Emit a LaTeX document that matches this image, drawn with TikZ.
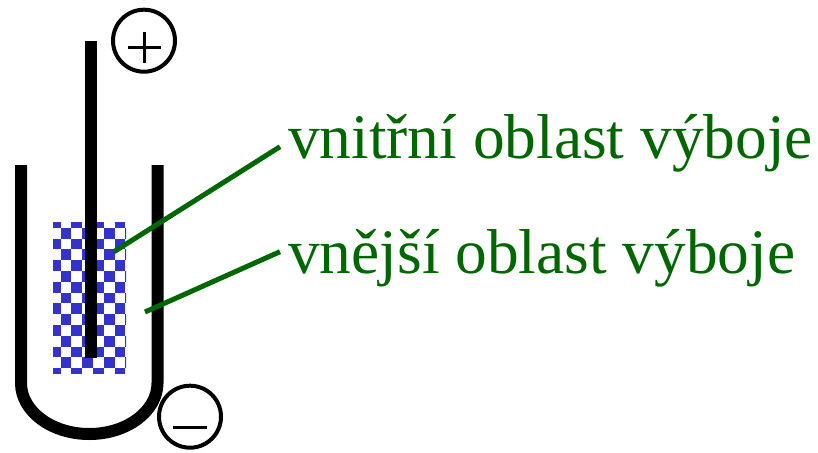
\documentclass[tikz,border=0pt]{standalone}
\usepackage{fontspec}
\setmainfont{Liberation Serif}
\definecolor{leadgreen}{RGB}{0,102,0}
\definecolor{plasmablue}{RGB}{51,51,204}
\begin{document}
\begin{tikzpicture}[x=1pt,y=-1pt,
  wall/.style={line width=12pt,line cap=butt,black},
  pole/.style={draw,circle,line width=4pt,minimum size=62pt,inner sep=0pt},
  sign/.style={line width=3pt},
  leader/.style={line width=5pt,leadgreen},
  label/.style={anchor=base west,inner sep=0pt,text=leadgreen,
    font=\fontsize{63.4}{70}\selectfont}]
\useasboundingbox (0,0) rectangle (818,452);
% checkered discharge region
\begin{scope}
  \clip (53,222) rectangle (126,373);
  \foreach \i in {0,...,7}{
    \foreach \j in {0,...,15}{
      \pgfmathtruncatemacro{\cellparity}{mod(\i+\j,2)}
      \ifnum\cellparity=0
        \fill[plasmablue] ({49.7+10.8*\i},{217+10.8*\j}) rectangle ++(10.8,10.8);
      \fi
    }
  }
\end{scope}
% outer electrode (U-shaped vessel)
\draw[wall] (21,165) -- (21,383) arc[start angle=180,end angle=360,x radius=68.25,y radius=-51] -- (157.5,165);
% inner electrode
\draw[wall] (91,41) -- (91,358);
% polarity marks
\node[pole] (plus) at (144,40.7) {};
\draw[sign] (128,47.5) -- (161,47.5) (144,32) -- (144,63);
\node[pole] (minus) at (190,416.7) {};
\draw[sign,line width=3.3pt] (173,427.7) -- (207,427.7);
% labels and leaders
\node[label] (inner) at (288,158.3) {vnitřní oblast výboje};
\node[label] (outer) at (288,273.3) {vnější oblast výboje};
\coordinate (innerpt) at (114,251.7);
\coordinate (outerpt) at (145,312);
\coordinate (innerend) at (280,146.7);
\coordinate (outerend) at (280,251.7);
\draw[leader] (innerpt) -- (innerend);
\draw[leader] (outerpt) -- (outerend);
\end{tikzpicture}
\end{document}
